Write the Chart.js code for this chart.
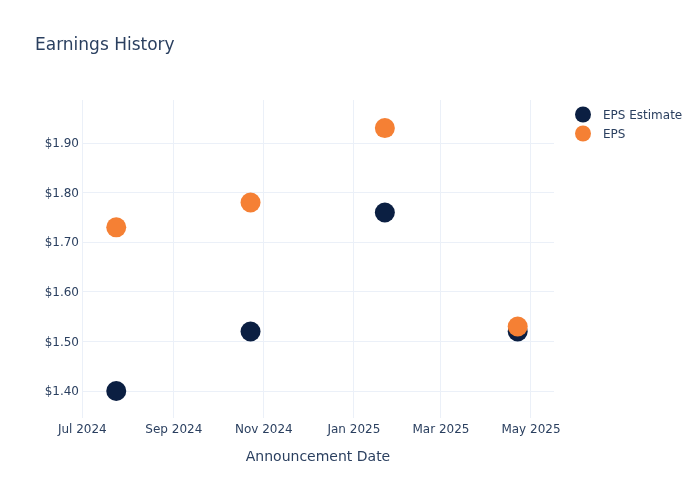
<!DOCTYPE html>
<html>
<head>
<meta charset="utf-8">
<script src="https://cdn.jsdelivr.net/npm/chart.js@4.4.1/dist/chart.umd.min.js"></script>
<style>
  html, body { margin: 0; padding: 0; background: #fff; }
  #wrap { width: 700px; height: 500px; position: relative; }
</style>
</head>
<body>
<div id="wrap"><canvas id="c"></canvas></div>
<script>
// ---- Data ----
const dates = ['2024-07-24', '2024-10-23', '2025-01-22', '2025-04-22'];
const epsEstimate = [1.40, 1.52, 1.76, 1.52];
const epsActual = [1.73, 1.78, 1.93, 1.53];
const seriesNames = ['EPS Estimate', 'EPS'];
const seriesColors = ['#0b1f42', '#f58034'];
const xTickDates = ['2024-07-01', '2024-09-01', '2024-11-01', '2025-01-01', '2025-03-01', '2025-05-01'];
const yTickValues = [1.40, 1.50, 1.60, 1.70, 1.80, 1.90];
const monthNames = ['Jan','Feb','Mar','Apr','May','Jun','Jul','Aug','Sep','Oct','Nov','Dec'];

const toMs = s => { const [y, m, d] = s.split('-').map(Number); return Date.UTC(y, m - 1, d); };
const DAY = 86400000;

const textColor = '#2a3f5f';
const gridColor = '#ebf0f8';
const FONT = "'DejaVu Sans', 'Open Sans', sans-serif";

const legendPlugin = {
  id: 'customLegend',
  afterDraw(chart) {
    const ctx = chart.ctx;
    ctx.save();
    seriesNames.forEach((name, i) => {
      const y = 114.5 + i * 19;
      ctx.beginPath();
      ctx.arc(583, y, 8, 0, Math.PI * 2);
      ctx.fillStyle = seriesColors[i];
      ctx.fill();
      ctx.fillStyle = textColor;
      ctx.font = '12px ' + FONT;
      ctx.textBaseline = 'middle';
      ctx.textAlign = 'left';
      ctx.fillText(name, 603, y + 1);
    });
    ctx.restore();
  }
};

new Chart(document.getElementById('c'), {
  type: 'scatter',
  data: {
    datasets: [
      {
        label: seriesNames[0],
        data: dates.map((d, i) => ({ x: toMs(d), y: epsEstimate[i] })),
        backgroundColor: seriesColors[0],
        borderColor: seriesColors[0],
        pointRadius: 10,
        pointHoverRadius: 10,
        borderWidth: 0,
        order: 1
      },
      {
        label: seriesNames[1],
        data: dates.map((d, i) => ({ x: toMs(d), y: epsActual[i] })),
        backgroundColor: seriesColors[1],
        borderColor: seriesColors[1],
        pointRadius: 10,
        pointHoverRadius: 10,
        borderWidth: 0,
        order: 0
      }
    ]
  },
  options: {
    responsive: true,
    maintainAspectRatio: false,
    animation: false,
    layout: { padding: { left: 35, right: 146, top: 0, bottom: 0 } },
    plugins: {
      legend: { display: false },
      tooltip: { enabled: false },
      title: {
        display: true,
        text: 'Earnings History',
        align: 'start',
        color: textColor,
        font: { family: FONT, size: 17, weight: 'normal' },
        padding: { top: 35, bottom: 44.6 }
      }
    },
    scales: {
      x: {
        type: 'linear',
        min: toMs('2024-07-01') - 0.2 * DAY,
        max: toMs('2025-05-16') + 0.6 * DAY,
        afterFit(scale) { scale.height = 82; },
        afterBuildTicks(scale) { scale.ticks = xTickDates.map(d => ({ value: toMs(d) })); },
        ticks: {
          color: textColor,
          font: { family: FONT, size: 12 },
          padding: 5,
          maxRotation: 0,
          autoSkip: false,
          callback(v) { const d = new Date(v); return monthNames[d.getUTCMonth()] + ' ' + d.getUTCFullYear(); }
        },
        grid: { color: gridColor, drawTicks: false },
        border: { display: false },
        title: {
          display: true,
          text: 'Announcement Date',
          color: textColor,
          font: { family: FONT, size: 14 },
          padding: { top: 0, bottom: 34.6 }
        }
      },
      y: {
        type: 'linear',
        min: 1.3456,
        max: 1.9867,
        afterFit(scale) { scale.width = 47; },
        afterBuildTicks(scale) { scale.ticks = yTickValues.map(v => ({ value: v })); },
        ticks: {
          color: textColor,
          font: { family: FONT, size: 12 },
          padding: 3,
          labelOffset: 1,
          callback(v) { return '$' + v.toFixed(2); }
        },
        grid: { color: gridColor, drawTicks: false },
        border: { display: false }
      }
    }
  },
  plugins: [legendPlugin]
});
</script>
</body>
</html>
